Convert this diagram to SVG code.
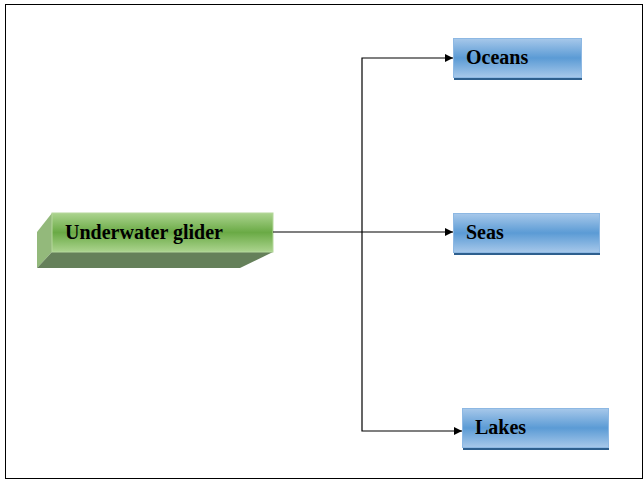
<svg xmlns="http://www.w3.org/2000/svg" width="644" height="480" viewBox="0 0 644 480">
<defs>
<linearGradient id="gb" x1="0" y1="0" x2="0" y2="1">
<stop offset="0" stop-color="#a7c8ea"/><stop offset="0.5" stop-color="#5b9bd5"/><stop offset="1" stop-color="#a7c8ea"/>
</linearGradient>
<linearGradient id="gg" x1="0" y1="0" x2="0" y2="1">
<stop offset="0" stop-color="#acd48f"/><stop offset="0.5" stop-color="#6aaa45"/><stop offset="1" stop-color="#acd48f"/>
</linearGradient>
<marker id="ar" viewBox="0 0 10 10" refX="10" refY="5" markerWidth="10" markerHeight="8" markerUnits="userSpaceOnUse" orient="auto">
<path d="M0,0 L10,5 L0,10 z" fill="#000"/>
</marker>
</defs>
<style>
.box{fill:url(#gb);stroke:#8db8e3;stroke-width:1}
.shadow{fill:#2e5f8e}
.t{font-family:"Liberation Serif","Times New Roman",serif;font-weight:bold;font-size:20px;fill:#000}
.c{fill:none;stroke:#000;stroke-width:1.2}
</style>
<rect x="5.5" y="4.5" width="637" height="474" fill="#fff" stroke="#000" stroke-width="1"/>
<g id="glider">
<polygon points="37,232 52,213 52,252 37,268" fill="#93b97b"/>
<polygon points="37,268 52,252 273,252 240,268" fill="#65805a"/>
<rect x="52" y="213" width="221" height="39" fill="url(#gg)" stroke="#b5d89c" stroke-width="1"/>
<text class="t" x="65" y="239">Underwater glider</text>
</g>
<g id="oceans">
<rect class="shadow" x="454" y="77" width="128" height="3"/>
<rect class="box" x="453.5" y="38.5" width="128" height="39"/>
<text class="t" x="466" y="64">Oceans</text>
</g>
<g id="seas">
<rect class="shadow" x="454" y="252" width="146" height="3"/>
<rect class="box" x="453.5" y="213.5" width="146" height="39"/>
<text class="t" x="466" y="239">Seas</text>
</g>
<g id="lakes">
<rect class="shadow" x="463" y="447" width="146" height="3"/>
<rect class="box" x="462.5" y="408.5" width="146" height="39"/>
<text class="t" x="475" y="434">Lakes</text>
</g>
<g id="connectors">
<path class="c" d="M273,232 H453" marker-end="url(#ar)"/>
<path class="c" d="M362,232 V58 H453" marker-end="url(#ar)"/>
<path class="c" d="M362,232 V431 H462" marker-end="url(#ar)"/>
</g>
</svg>
